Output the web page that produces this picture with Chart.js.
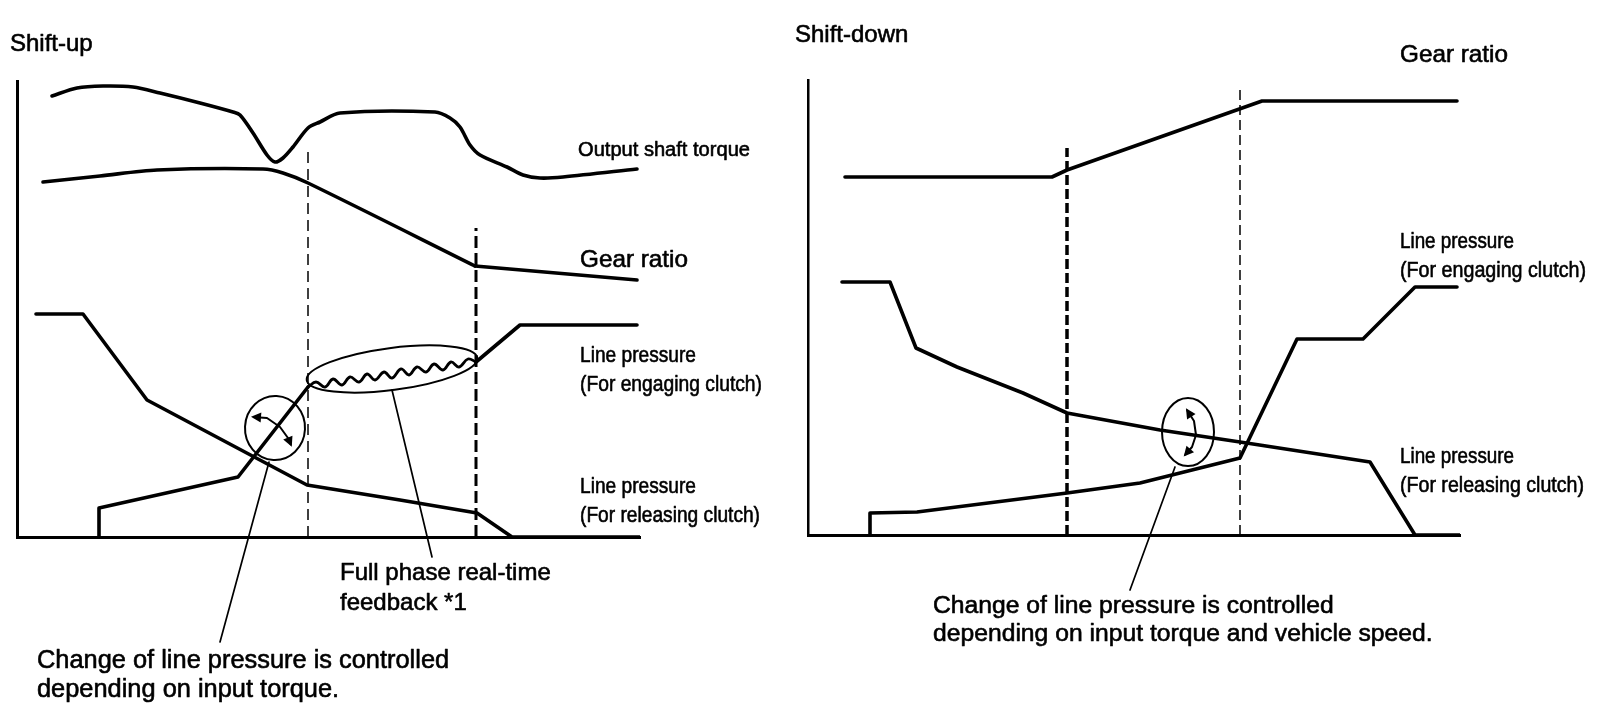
<!DOCTYPE html>
<html>
<head>
<meta charset="utf-8">
<script src="https://cdn.jsdelivr.net/npm/chart.js@4.4.1/dist/chart.umd.min.js"></script>
<style>
  html, body { margin: 0; padding: 0; background: #fff; }
  #wrap { position: relative; width: 1600px; height: 722px; overflow: hidden; background: #fff; }
  #c1 { position: absolute; left: 0; top: 0; }
  #c2 { position: absolute; left: 790px; top: 0; }
</style>
</head>
<body>
<div id="wrap">
  <canvas id="c1" width="790" height="722"></canvas>
  <canvas id="c2" width="810" height="722"></canvas>
</div>
<script>
// ===== Shift-up (x: time units, y: level units) =====
const upTorqueX = [35, 60, 86, 116, 143, 183, 216, 223, 236, 250, 258, 266, 276, 291, 303, 323, 418, 433, 443, 453, 463, 490, 506, 523, 546, 620];
const upTorqueY = [441, 449, 451, 450, 444, 434, 425, 422, 404, 382, 375, 379, 390, 409, 415, 424, 425, 419, 410, 392, 382, 370, 362, 359, 360, 368];

const upGearX = [26, 83, 140, 246, 266, 291, 458];
const upGearY = [355, 361, 367, 368, 364, 354, 271];
const upGearTailX = [458, 620];
const upGearTailY = [271, 257];

const upEngRiseX = [82, 82, 221, 291];
const upEngRiseY = [0, 29, 60, 150];
const upEngWaveX = [291, 299, 308, 316, 325, 333, 342, 350, 358, 367, 375, 384, 392, 400, 409, 417, 426, 434, 442, 451, 459];
const upEngWaveY = [150, 155, 150, 158, 152, 160, 155, 163, 157, 165, 159, 168, 162, 170, 165, 173, 167, 175, 170, 178, 175];
const upEngEndX = [459, 503, 620];
const upEngEndY = [175, 212, 212];

const upRelX = [19, 66, 130, 290, 383, 460, 495, 623];
const upRelY = [223, 223, 137, 52, 37, 24, 0, 0];

const upMarkX = [291, 459];      // phase boundaries
const upMarkTop = [389, 309];

// ===== Shift-down =====
const downGearX = [37, 244, 259, 454, 649];
const downGearY = [358, 358, 365, 434, 434];

const downEngX = [62, 62, 109, 259, 332, 372, 432, 489, 555, 607, 649];
const downEngY = [0, 22, 23, 42, 52, 62, 77, 196, 196, 248, 248];

const downRelX = [34, 82, 108, 149, 215, 259, 352, 432, 562, 607, 652];
const downRelY = [253, 253, 187, 168, 142, 122, 105, 93, 73, 0, 0];

const downMarkX = [259, 432];
const downMarkTop = [387, 445];

// ===== Text =====
const upTitle = 'Shift-up';
const downTitle = 'Shift-down';
const lblTorque = 'Output shaft torque';
const lblGear = 'Gear ratio';
const lblLP = 'Line pressure';
const lblEng = '(For engaging clutch)';
const lblRel = '(For releasing clutch)';
const noteFeedback = ['Full phase real-time', 'feedback *1'];
const noteUp = ['Change of line pressure is controlled', 'depending on input torque.'];
const noteDown = ['Change of line pressure is controlled', 'depending on input torque and vehicle speed.'];

// ===== layout (page pixels) =====
const FONT = '"Liberation Sans", Arial, Helvetica, sans-serif';
const upLabels = [
  { t: upTitle, x: 10, y: 51, s: 24 },
  { t: lblTorque, x: 578, y: 156, s: 20, w: 172 },
  { t: lblGear, x: 580, y: 267, s: 24, w: 108 },
  { t: lblLP, x: 580, y: 362, s: 22, w: 116 },
  { t: lblEng, x: 580, y: 391, s: 22, w: 182 },
  { t: lblLP, x: 580, y: 493, s: 22, w: 116 },
  { t: lblRel, x: 580, y: 522, s: 22, w: 180 },
  { t: noteFeedback[0], x: 340, y: 580, s: 24 },
  { t: noteFeedback[1], x: 340, y: 610, s: 24 },
  { t: noteUp[0], x: 37, y: 668, s: 25.4 },
  { t: noteUp[1], x: 37, y: 697, s: 25.4 }
];
const downLabels = [
  { t: downTitle, x: 795, y: 42, s: 24 },
  { t: lblGear, x: 1400, y: 62, s: 24, w: 108 },
  { t: lblLP, x: 1400, y: 248, s: 22, w: 114 },
  { t: lblEng, x: 1400, y: 277, s: 22, w: 186 },
  { t: lblLP, x: 1400, y: 463, s: 22, w: 114 },
  { t: lblRel, x: 1400, y: 492, s: 22, w: 184 },
  { t: noteDown[0], x: 933, y: 613, s: 24.7 },
  { t: noteDown[1], x: 933, y: 641, s: 24.7 }
];

// annotation shapes in data units
const upLoops = [
  { cx: 258, cy: 109, rx: 30, ry: 32, rot: 0.05 },
  { cx: 375, cy: 168, rx: 86, ry: 21, rot: -0.13 }
];
const upArrows = [[[236, 120], [250, 119], [263, 110], [271, 99], [274, 92]]];
const upLeaders = [
  [[252, 75], [203, -105]],
  [[375, 147], [415, -20]]
];
const downLoops = [{ cx: 380, cy: 103, rx: 26, ry: 34, rot: 0 }];
const downArrows = [[[379, 125], [386, 114], [388, 100], [384, 88], [377, 80]]];
const downLeaders = [[[367, 68], [322, -55]]];

// ===== helpers =====
function pts(xs, ys) { return xs.map((v, i) => ({ x: v, y: ys[i] })); }

function lineDs(data, opts) {
  return Object.assign({
    data: data, borderColor: '#000', borderWidth: 3.6, pointRadius: 0,
    fill: false, tension: 0, borderJoinStyle: 'round', borderCapStyle: 'round'
  }, opts || {});
}

function markDs(x, top, dash, width) {
  return lineDs([{ x: x, y: 0 }, { x: x, y: top }], { borderDash: dash, borderWidth: width, borderCapStyle: 'butt' });
}

function leaderDs(seg) {
  return lineDs(pts(seg.map(p => p[0]), seg.map(p => p[1])), { borderWidth: 1.7, clip: false });
}

function head(ctx, from, to) {
  const a = Math.atan2(to[1] - from[1], to[0] - from[0]);
  const L = 10, W = 5;
  const tx = to[0] + Math.cos(a) * 2, ty = to[1] + Math.sin(a) * 2;
  const bx = tx - Math.cos(a) * L, by = ty - Math.sin(a) * L;
  ctx.beginPath();
  ctx.moveTo(tx, ty);
  ctx.lineTo(bx - Math.sin(a) * W, by + Math.cos(a) * W);
  ctx.lineTo(bx + Math.sin(a) * W, by - Math.cos(a) * W);
  ctx.closePath();
  ctx.fill();
}

function annotPlugin(labels, loops, arrows, offsetX) {
  return {
    id: 'annot',
    afterDatasetsDraw(chart) {
      const { ctx, scales: { x, y } } = chart;
      const ux = Math.abs(x.getPixelForValue(1) - x.getPixelForValue(0));
      const uy = Math.abs(y.getPixelForValue(1) - y.getPixelForValue(0));
      ctx.save();
      ctx.strokeStyle = '#000';
      ctx.fillStyle = '#000';
      ctx.lineWidth = 2;
      loops.forEach(o => {
        ctx.beginPath();
        ctx.ellipse(x.getPixelForValue(o.cx), y.getPixelForValue(o.cy), o.rx * ux, o.ry * uy, o.rot, 0, Math.PI * 2);
        ctx.stroke();
      });
      arrows.forEach(a => {
        const P = a.map(p => [x.getPixelForValue(p[0]), y.getPixelForValue(p[1])]);
        ctx.beginPath();
        ctx.moveTo(P[0][0], P[0][1]);
        for (let i = 1; i < P.length; i++) ctx.lineTo(P[i][0], P[i][1]);
        ctx.lineWidth = 2;
        ctx.lineJoin = 'round';
        ctx.stroke();
        head(ctx, P[1], P[0]);
        head(ctx, P[P.length - 2], P[P.length - 1]);
      });
      ctx.textBaseline = 'alphabetic';
      ctx.textAlign = 'left';
      ctx.lineJoin = 'round';
      labels.forEach(l => {
        ctx.font = l.s + 'px ' + FONT;
        const m = ctx.measureText(l.t).width;
        const k = l.w ? l.w / m : 1;
        ctx.save();
        ctx.translate(l.x - offsetX, l.y);
        ctx.scale(k, 1);
        ctx.lineWidth = 0.6;
        ctx.fillText(l.t, 0, 0);
        ctx.strokeText(l.t, 0, 0);
        ctx.restore();
      });
      ctx.restore();
    }
  };
}

function axes(xmax, ymax, bw) {
  return {
    x: {
      type: 'linear', min: 0, max: xmax,
      grid: { display: false, drawTicks: false },
      ticks: { display: false },
      border: { display: true, color: '#000', width: 3 }
    },
    y: {
      type: 'linear', min: 0, max: ymax,
      grid: { display: false, drawTicks: false },
      ticks: { display: false },
      border: { display: true, color: '#000', width: bw }
    }
  };
}

function baseOptions(pad, xmax, ymax, bw) {
  return {
    responsive: false,
    animation: false,
    events: [],
    layout: { padding: pad },
    plugins: { legend: { display: false }, tooltip: { enabled: false } },
    scales: axes(xmax, ymax, bw)
  };
}

// ===== Shift-up chart =====
new Chart(document.getElementById('c1'), {
  type: 'line',
  data: {
    datasets: [
      lineDs(pts(upTorqueX, upTorqueY), { tension: 0.3 }),
      lineDs(pts(upGearX, upGearY), { tension: 0.3 }),
      lineDs(pts(upGearTailX, upGearTailY)),
      lineDs(pts(upEngRiseX, upEngRiseY)),
      lineDs(pts(upEngWaveX, upEngWaveY), { tension: 0.4, borderWidth: 2.8 }),
      lineDs(pts(upEngEndX, upEngEndY)),
      lineDs(pts(upRelX, upRelY)),
      markDs(upMarkX[0], upMarkTop[0], [11, 6], 1.5),
      markDs(upMarkX[1], upMarkTop[1], [12, 5], 3),
      ...upLeaders.map(leaderDs)
    ]
  },
  options: baseOptions({ left: 17, top: 81, right: 150, bottom: 185 }, 623, 456, 3),
  plugins: [annotPlugin(upLabels, upLoops, upArrows, 0)]
});

// ===== Shift-down chart =====
new Chart(document.getElementById('c2'), {
  type: 'line',
  data: {
    datasets: [
      lineDs(pts(downGearX, downGearY)),
      lineDs(pts(downEngX, downEngY)),
      lineDs(pts(downRelX, downRelY)),
      markDs(downMarkX[0], downMarkTop[0], [10, 4], 3.5),
      markDs(downMarkX[1], downMarkTop[1], [10, 5], 1.5),
      ...downLeaders.map(leaderDs)
    ]
  },
  options: baseOptions({ left: 18, top: 80, right: 140, bottom: 187 }, 652, 455, 2.5),
  plugins: [annotPlugin(downLabels, downLoops, downArrows, 790)]
});
</script>
</body>
</html>
